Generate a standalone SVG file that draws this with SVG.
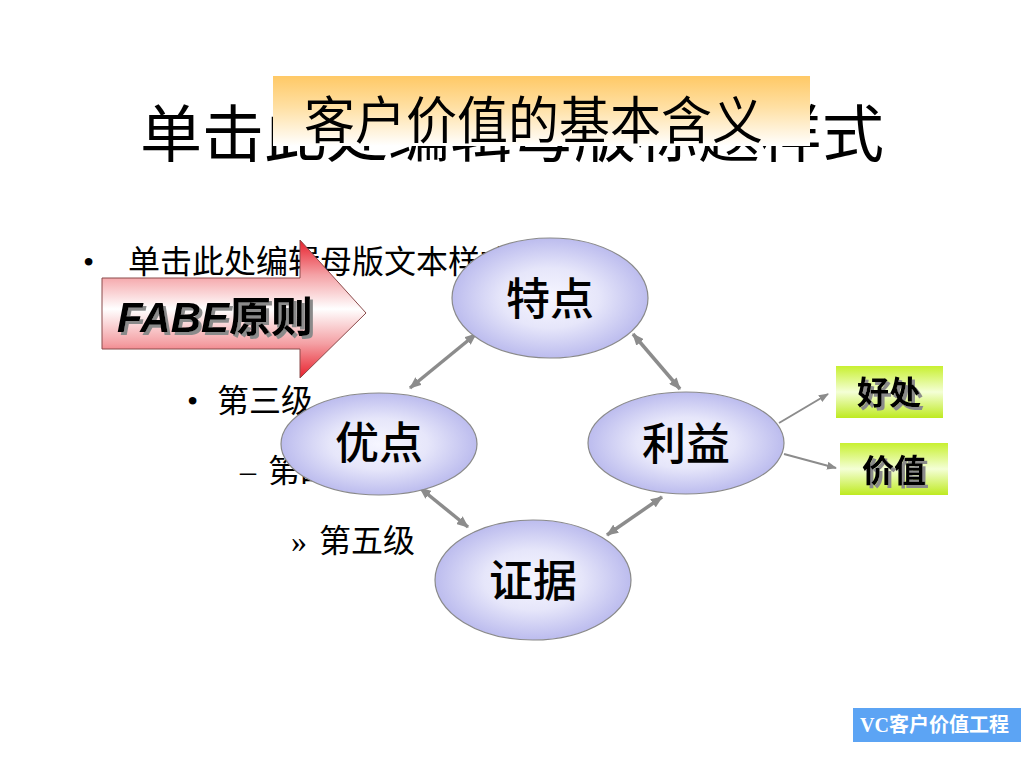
<svg xmlns="http://www.w3.org/2000/svg" width="1024" height="768" viewBox="0 0 1024 768">
<style>
.cjk{font-family:"Noto Sans CJK SC","Noto Sans",sans-serif;}
.body{font-family:"Liberation Serif","Noto Sans CJK SC",serif;font-size:32px;fill:#000;}
.ell{fill:url(#gEll);stroke:#8a8a8a;stroke-width:1.2;}
.lbl{font-family:"Noto Sans CJK SC",sans-serif;font-size:44px;fill:#000;text-anchor:middle;font-weight:500;}
.con{stroke:#8c8c8c;stroke-width:3.5;fill:none;}
.con2{stroke:#8c8c8c;stroke-width:2;fill:none;}
.box{fill:url(#gBox);}
.blbl{font-family:"Noto Sans CJK SC",sans-serif;font-size:32px;font-weight:bold;text-anchor:middle;fill:#000;filter:url(#shadow);}
</style>
<defs>
<filter id="shadow" x="-10%" y="-20%" width="130%" height="150%">
<feOffset in="SourceAlpha" dx="2.5" dy="2.5" result="off"/>
<feFlood flood-color="#8a8a8a"/>
<feComposite in2="off" operator="in" result="sh"/>
<feMerge><feMergeNode in="sh"/><feMergeNode in="SourceGraphic"/></feMerge>
</filter>
<linearGradient id="gTitle" x1="0" y1="0" x2="0" y2="1">
<stop offset="0" stop-color="#FFC966"/>
<stop offset="0.45" stop-color="#FFE0A4"/>
<stop offset="1" stop-color="#FFFFFF"/>
</linearGradient>
<linearGradient id="gArrow" x1="0" y1="0" x2="0" y2="1">
<stop offset="0" stop-color="#E8202C"/>
<stop offset="0.25" stop-color="#F4A0A4"/>
<stop offset="0.5" stop-color="#FFFFFF"/>
<stop offset="0.75" stop-color="#F4A0A4"/>
<stop offset="1" stop-color="#E8202C"/>
</linearGradient>
<radialGradient id="gEll" cx="0.5" cy="0.5" r="0.5">
<stop offset="0" stop-color="#F6F6FF"/>
<stop offset="0.5" stop-color="#E6E6FA"/>
<stop offset="1" stop-color="#BCBCEE"/>
</radialGradient>
<linearGradient id="gBox" x1="0" y1="0" x2="0" y2="1">
<stop offset="0" stop-color="#C8F030"/>
<stop offset="0.5" stop-color="#F4FFD6"/>
<stop offset="1" stop-color="#BEEA20"/>
</linearGradient>
<marker id="ah" viewBox="0 0 12 10" refX="11" refY="5" markerWidth="12" markerHeight="10" markerUnits="userSpaceOnUse" orient="auto-start-reverse">
<path d="M0,0 L12,5 L0,10 z" fill="#8c8c8c"/>
</marker>
<marker id="ah2" viewBox="0 0 10 8" refX="9" refY="4" markerWidth="10" markerHeight="8" markerUnits="userSpaceOnUse" orient="auto">
<path d="M0,0 L10,4 L0,8 z" fill="#8c8c8c"/>
</marker>
</defs>
<rect width="1024" height="768" fill="#FFFFFF"/>

<text class="cjk" x="140" y="157" font-size="62" fill="#000">单击此处编辑母版标题样式</text>
<g id="title">
<rect x="273" y="76" width="537" height="70" fill="url(#gTitle)"/>
<text class="cjk" x="304" y="139" font-size="51" fill="#000">客户价值的基本含义</text>
</g>

<text class="body" x="83" y="273">•</text>
<text class="body" x="128" y="273">单击此处编辑母版文本样式</text>
<text class="body" x="187" y="412">•</text>
<text class="body" x="217" y="412">第三级</text>
<text class="body" x="240" y="482">–</text>
<text class="body" x="268" y="482">第四级</text>
<text class="body" x="291" y="552">»</text>
<text class="body" x="319" y="552">第五级</text>

<g id="fabe">
<path d="M102,278 L300,278 L300,240 L366,313 L300,378 L300,349 L102,349 Z" fill="url(#gArrow)" stroke="#8a4a4a" stroke-width="1"/>
<text x="117" y="332" font-family="Liberation Sans,Arial,sans-serif" font-size="42" font-weight="bold" font-style="italic" fill="#000" filter="url(#shadow)">FABE<tspan font-family="Noto Sans CJK SC,sans-serif" font-style="normal">原则</tspan></text>
</g>

<g id="connectors">
<line class="con" x1="476" y1="334" x2="410" y2="388" marker-start="url(#ah)" marker-end="url(#ah)"/>
<line class="con" x1="633" y1="334" x2="680" y2="389" marker-start="url(#ah)" marker-end="url(#ah)"/>
<line class="con" x1="420" y1="488" x2="468" y2="527" marker-start="url(#ah)" marker-end="url(#ah)"/>
<line class="con" x1="662" y1="497" x2="607" y2="535" marker-start="url(#ah)" marker-end="url(#ah)"/>
<line class="con2" x1="779" y1="423" x2="828" y2="394" marker-end="url(#ah2)"/>
<line class="con2" x1="784" y1="454" x2="836" y2="468" marker-end="url(#ah2)"/>
</g>

<g id="n-tedian">
<ellipse class="ell" cx="550" cy="298" rx="98" ry="60"/>
<text class="lbl" x="550" y="315">特点</text>
</g>
<g id="n-youdian">
<ellipse class="ell" cx="379" cy="444" rx="98" ry="51"/>
<text class="lbl" x="379" y="459">优点</text>
</g>
<g id="n-liyi">
<ellipse class="ell" cx="686" cy="443" rx="98" ry="51"/>
<text class="lbl" x="686" y="460">利益</text>
</g>
<g id="n-zhengju">
<ellipse class="ell" cx="533" cy="580" rx="98" ry="60"/>
<text class="lbl" x="533" y="597">证据</text>
</g>

<g id="n-haochu">
<rect class="box" x="836" y="366" width="107" height="52"/>
<text class="blbl" x="889" y="404">好处</text>
</g>
<g id="n-jiazhi">
<rect class="box" x="840" y="443" width="108" height="52"/>
<text class="blbl" x="894" y="482">价值</text>
</g>

<g id="footer">
<rect x="853" y="708" width="168" height="34" fill="#5CA4F4"/>
<text x="860" y="732" font-family="Liberation Serif,Noto Sans CJK SC,serif" font-size="20" font-weight="bold" fill="#FFFFFF">VC<tspan font-family="Noto Sans CJK SC,sans-serif">客户价值工程</tspan></text>
</g>
</svg>
